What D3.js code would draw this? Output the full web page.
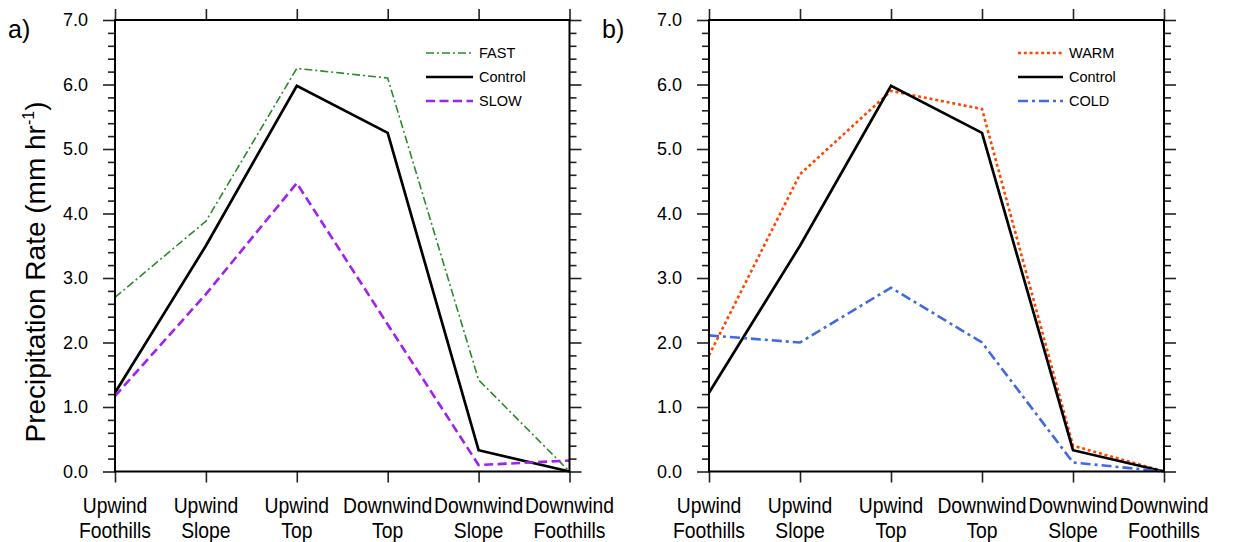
<!DOCTYPE html>
<html>
<head>
<meta charset="utf-8">
<script src="https://cdn.jsdelivr.net/npm/d3@7"></script>
<style>
  body { margin: 0; background: #fff; }
  svg text { font-family: "Liberation Sans", Arial, Helvetica, sans-serif; fill: #000; }
</style>
</head>
<body>
<script>
// categories along the ridge (two lines each)
var categories = ["UF", "US", "UT", "DT", "DS", "DF"];
var catLine1 = ["Upwind", "Upwind", "Upwind", "Downwind", "Downwind", "Downwind"];
var catLine2 = ["Foothills", "Slope", "Top", "Top", "Slope", "Foothills"];

// precipitation rate (mm hr-1)
var control = [1.22, 3.5, 5.98, 5.25, 0.33, 0.0];
var fast    = [2.7, 3.88, 6.25, 6.1, 1.42, 0.0];
var slow    = [1.17, 2.75, 4.47, 2.28, 0.1, 0.17];
var warm    = [1.8, 4.61, 5.9, 5.62, 0.4, 0.0];
var cold    = [2.11, 2.0, 2.85, 2.0, 0.14, 0.0];

var yTicks = [0, 1, 2, 3, 4, 5, 6, 7];
var yMinorStep = 0.2;

var width = 1237, height = 542;
var svg = d3.select("body").append("svg")
    .attr("width", width)
    .attr("height", height);

//y scale shared by both panels
var y = d3.scaleLinear().domain([0, 7]).range([471.5, 20]);
var minorTicks = d3.range(0, 7.001, yMinorStep).filter(function(v){
    return Math.abs(v - Math.round(v)) > 1e-6;
});

var panels = [
    {label: "a)", left: 115, right: 569.5, legX: 426, legLen: 47,
     series: [
        {name: "FAST", values: fast, color: "#2a8b2a", w: 1.6, dash: "8,3,2,3"},
        {name: "Control", values: control, color: "#000", w: 2.7, dash: null},
        {name: "SLOW", values: slow, color: "#a020f0", w: 2.6, dash: "9,4.5"}
     ]},
    {label: "b)", left: 709, right: 1164, legX: 1018, legLen: 45,
     series: [
        {name: "WARM", values: warm, color: "#ff4500", w: 2.6, dash: "3,2.8"},
        {name: "Control", values: control, color: "#000", w: 2.7, dash: null},
        {name: "COLD", values: cold, color: "#4169e1", w: 2.6, dash: "10,4,3,4"}
     ]}
];

panels.forEach(function(p){ drawPanel(p); });

function drawPanel(p){
    var x = d3.scalePoint().domain(categories).range([p.left, p.right]);
    var g = svg.append("g");

    // series lines (drawn first, frame on top)
    var line = d3.line()
        .x(function(d, i){ return x(categories[i]); })
        .y(function(d){ return y(d); });

    p.series.forEach(function(s){
        g.append("path")
            .datum(s.values)
            .attr("fill", "none")
            .attr("stroke", s.color)
            .attr("stroke-width", s.w)
            .attr("stroke-dasharray", s.dash)
            .attr("stroke-linejoin", "miter")
            .attr("d", line);
    });

    //left axis: major with labels, minor without
    var left = g.append("g").attr("transform", "translate(" + p.left + ",0)")
        .call(d3.axisLeft(y).tickValues(yTicks).tickFormat(d3.format(".1f"))
            .tickSize(12).tickPadding(15).tickSizeOuter(0));
    left.selectAll("text").style("font-size", "18px");
    g.append("g").attr("transform", "translate(" + p.left + ",0)")
        .call(d3.axisLeft(y).tickValues(minorTicks).tickFormat("").tickSize(7).tickSizeOuter(0));

    //right axis
    g.append("g").attr("transform", "translate(" + p.right + ",0)")
        .call(d3.axisRight(y).tickValues(yTicks).tickFormat("").tickSize(12).tickSizeOuter(0));
    g.append("g").attr("transform", "translate(" + p.right + ",0)")
        .call(d3.axisRight(y).tickValues(minorTicks).tickFormat("").tickSize(7).tickSizeOuter(0));

    //bottom + top axes
    g.append("g").attr("transform", "translate(0," + y(0) + ")")
        .call(d3.axisBottom(x).tickSize(11).tickSizeOuter(0).tickFormat(""));
    g.append("g").attr("transform", "translate(0," + y(7) + ")")
        .call(d3.axisTop(x).tickSize(11).tickSizeOuter(0).tickFormat(""));

    g.selectAll(".domain").remove();
    g.selectAll(".tick line").attr("stroke", "#222").attr("stroke-width", 1.6);

    //two-line category labels (a bit narrow, like the original font)
    var labs = g.append("g").selectAll("text")
        .data(categories)
        .enter()
        .append("text")
        .attr("text-anchor", "middle")
        .attr("transform", function(d){ return "translate(" + x(d) + ",0) scale(0.9,1)"; })
        .style("font-size", "21.5px");
    labs.append("tspan").attr("x", 0).attr("y", 513)
        .text(function(d, i){ return catLine1[i]; });
    labs.append("tspan").attr("x", 0).attr("y", 538)
        .text(function(d, i){ return catLine2[i]; });

    //frame
    g.append("rect")
        .attr("x", p.left).attr("y", y(7))
        .attr("width", p.right - p.left).attr("height", y(0) - y(7))
        .attr("fill", "none").attr("stroke", "#000").attr("stroke-width", 2);

    //panel label
    g.append("text")
        .attr("x", p.left - 107).attr("y", 38)
        .style("font-size", "25px")
        .text(p.label);

    //legend
    var leg = g.append("g");
    p.series.forEach(function(s, i){
        var ly = 53 + i * 24;
        leg.append("line")
            .attr("x1", p.legX).attr("x2", p.legX + p.legLen)
            .attr("y1", ly).attr("y2", ly)
            .attr("stroke", s.color)
            .attr("stroke-width", s.w)
            .attr("stroke-dasharray", s.dash);
        leg.append("text")
            .attr("x", p.legX + p.legLen + 6)
            .attr("y", ly + 5)
            .style("font-size", "14.5px")
            .text(s.name);
    });
}

//y axis title
var title = svg.append("text")
    .attr("transform", "translate(45,272) rotate(-90)")
    .attr("text-anchor", "middle")
    .style("font-size", "28px");
title.append("tspan").text("Precipitation Rate (mm hr");
title.append("tspan").attr("dy", -11).style("font-size", "16px").text("-1");
title.append("tspan").attr("dy", 11).text(")");
</script>
</body>
</html>
